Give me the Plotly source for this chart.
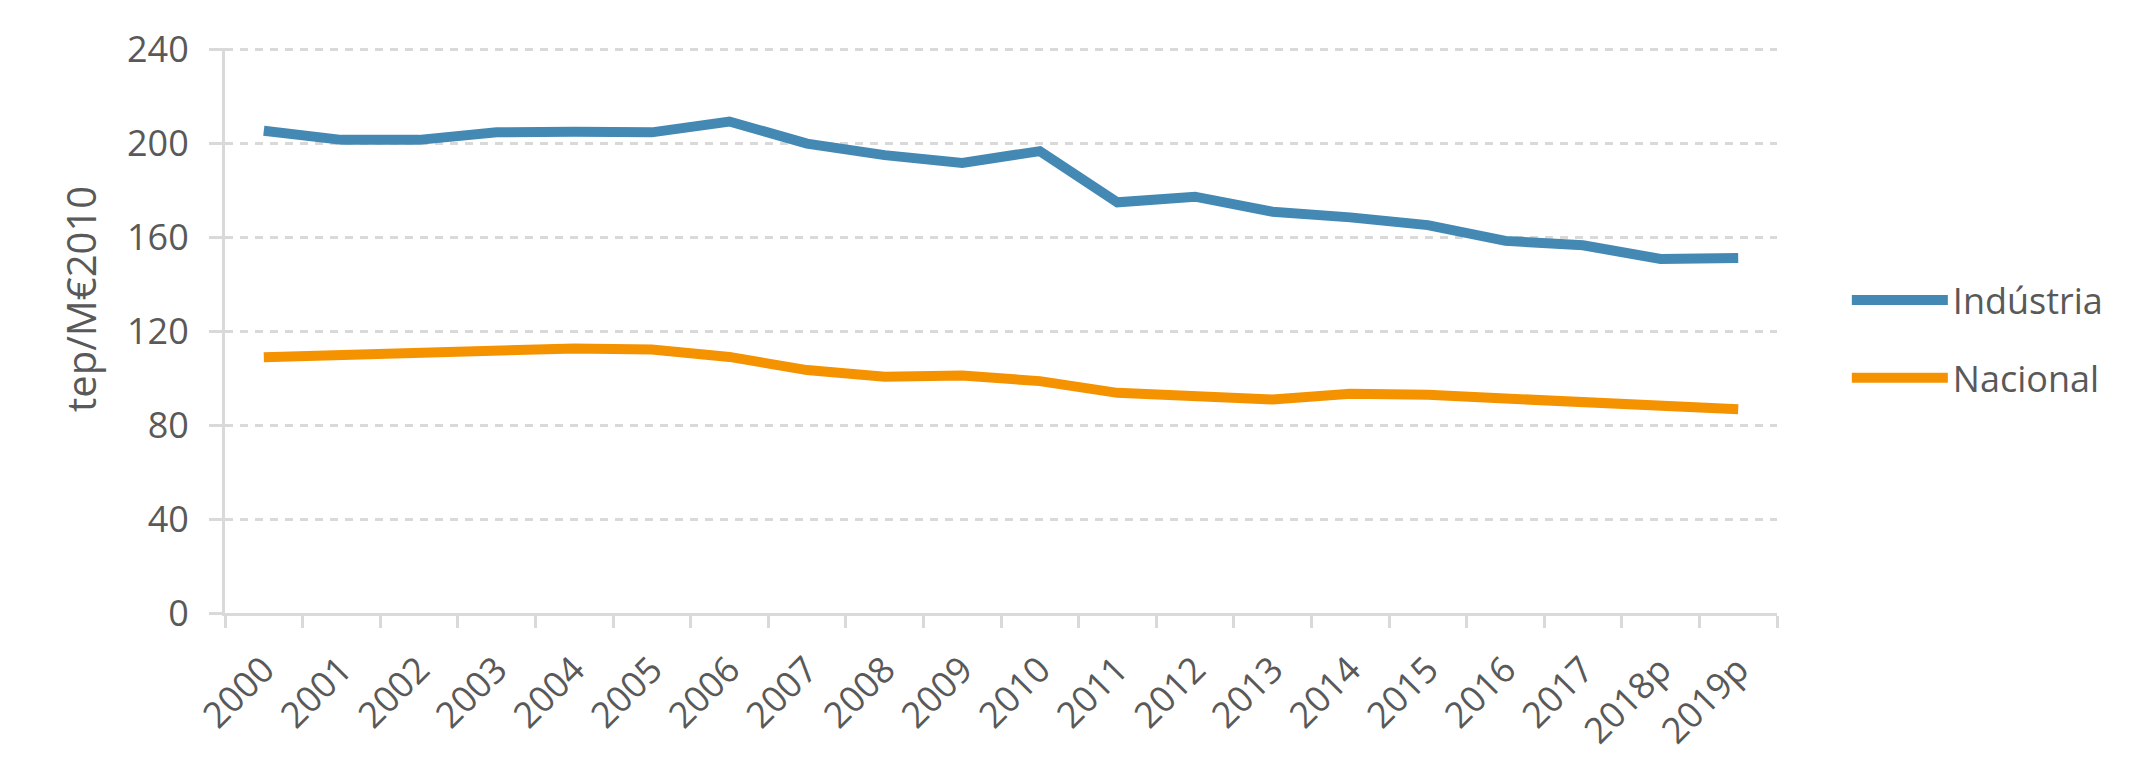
import plotly.graph_objects as go

categories = ['2000', '2001', '2002', '2003', '2004', '2005', '2006', '2007', '2008', '2009',
              '2010', '2011', '2012', '2013', '2014', '2015', '2016', '2017', '2018p', '2019p']
industria = [205.3, 201.4, 201.4, 204.6, 204.8, 204.6, 209.2, 199.8, 194.9, 191.6,
             196.6, 174.8, 177.2, 170.8, 168.4, 165.1, 158.4, 156.5, 150.7, 151.1]
nacional = [108.9, 110.0, 110.5, 112.2, 112.6, 112.2, 109.0, 103.4, 100.6, 101.1,
            98.7, 93.7, 92.3, 90.9, 93.3, 92.9, 91.3, 90.0, 88.4, 86.7]
y_ticks = [0, 40, 80, 120, 160, 200, 240]

BLUE = '#4389B4'
ORANGE = '#F59200'
GRID = '#D9D9D9'
TEXT = '#595959'
FONT = 'Open Sans'

L, R, T, B = 217, 375, 40, 174
W, H = 2144, 779
PW, PH = W - L - R, H - T - B

fig = go.Figure()
fig.add_trace(go.Scatter(x=categories, y=industria, name='Indústria', mode='lines',
                         line=dict(color=BLUE, width=10), legendgroup='a'))
fig.add_trace(go.Scatter(x=categories, y=nacional, name='Nacional', mode='lines',
                         line=dict(color=ORANGE, width=10), legendgroup='b'))

fig.update_layout(
    width=W, height=H,
    margin=dict(l=L, r=R, t=T, b=B),
    paper_bgcolor='white', plot_bgcolor='white',
    font=dict(family=FONT, color=TEXT, size=36),
    showlegend=True,
    legend=dict(x=1.045, xanchor='left', y=0.485, yanchor='middle',
                font=dict(family=FONT, size=36, color=TEXT),
                itemwidth=96, tracegroupgap=28, bgcolor='rgba(0,0,0,0)'),
    annotations=[dict(text='tep/M€2010', textangle=-90, showarrow=False,
                      xref='paper', yref='paper',
                      x=(72 - L) / PW, y=(H - B - 291) / PH,
                      xanchor='center', yanchor='middle',
                      font=dict(family=FONT, size=40, color=TEXT))],
)

fig.update_xaxes(
    type='category', tickangle=-45, tickson='boundaries',
    ticks='outside', ticklen=12, tickwidth=3, tickcolor=GRID,
    showline=True, linecolor=GRID, linewidth=3,
    showgrid=False, zeroline=False, automargin=False,
    tickfont=dict(family=FONT, size=36, color=TEXT),
    ticklabelstandoff=18,
    range=[-0.5, len(categories) - 0.5],
)
fig.update_yaxes(
    range=[0, 240.5], tickvals=y_ticks,
    ticks='outside', ticklen=13, tickwidth=3, tickcolor=GRID,
    showline=True, linecolor=GRID, linewidth=3,
    showgrid=True, gridcolor=GRID, gridwidth=3, griddash='8px,7px',
    zeroline=False, automargin=False,
    tickfont=dict(family=FONT, size=36, color=TEXT),
    ticklabelstandoff=13,
)

fig.write_html('out.html')
